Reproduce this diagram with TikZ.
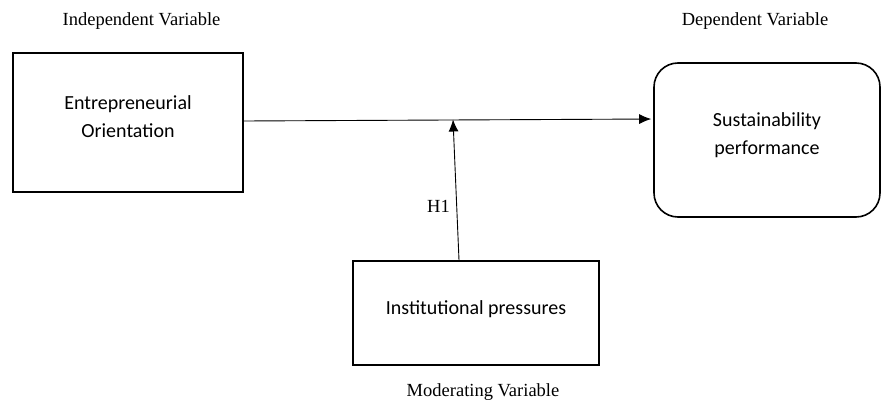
\documentclass[tikz,border=0pt]{standalone}
\usepackage{fontspec}
\setmainfont{Liberation Serif}
\newfontfamily\boxfont{Carlito}
\usetikzlibrary{arrows.meta}

\begin{document}
\begin{tikzpicture}[x=1pt,y=-1pt,
    varbox/.style={draw,line width=1.6pt,align=center,inner sep=0pt,
      font=\boxfont\fontsize{20}{28}\selectfont},
    vartitle/.style={font=\fontsize{18.5}{22}\selectfont},
    link/.style={line width=0.9pt,-{Latex[length=12pt,width=10pt]}}]
  \useasboundingbox (0,0) rectangle (882,404);
  \node[varbox,minimum width=230pt,minimum height=139pt,text depth=11pt] (eo) at (128,122.5) {Entrepreneurial\\Orientation};
  \node[varbox,rounded corners=24pt,minimum width=226pt,minimum height=154pt,text depth=12pt] (sp) at (767,140) {Sustainability\\performance};
  \node[varbox,minimum width=246pt,minimum height=104pt,text depth=10pt] (ip) at (476,313) {Institutional pressures};
  \node[vartitle] (iv) at (141.5,21) {Independent Variable};
  \node[vartitle] (dv) at (755,21) {Dependent Variable};
  \node[vartitle] (mv) at (483,392) {Moderating Variable};
  \node[vartitle] (h1) at (438.5,206.5) {H1};
  \coordinate (m) at (453,119.5);
  \draw[link,shorten >=2pt] ([yshift=1.5pt]eo.east) -- ([yshift=21pt]sp.west);
  \draw[link] ([xshift=-17pt]ip.north) -- (m);
\end{tikzpicture}
\end{document}
